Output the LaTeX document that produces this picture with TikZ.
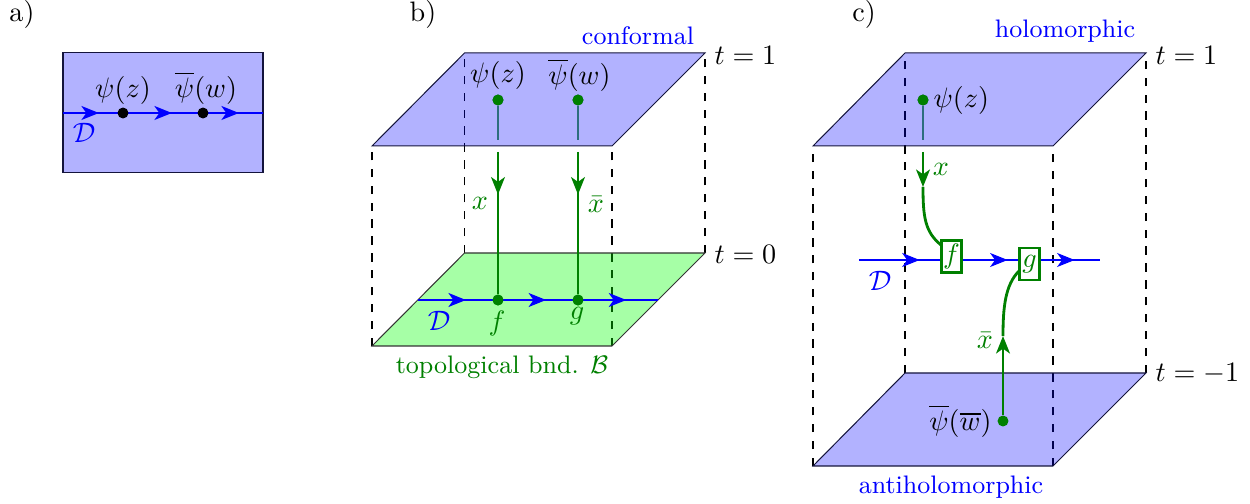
\documentclass[tikz,border=0pt]{standalone}
\usetikzlibrary{arrows.meta,decorations.markings}
\definecolor{dgreen}{RGB}{0,128,0}
\definecolor{stubc}{RGB}{45,110,125}
\definecolor{edgec}{RGB}{20,20,60}
\tikzset{
  >={Stealth[length=6.2pt,width=4.9pt,inset=1.7pt]},
  plane/.style={draw=edgec,line width=0.36pt,fill=blue,fill opacity=0.3},
  gplane/.style={draw=black!80,line width=0.36pt,fill=green,fill opacity=0.35},
  vdash/.style={draw=black,dashed,line width=0.4pt},
  bline/.style={draw=blue,line width=1pt},
  gline/.style={draw=dgreen,line width=1pt},
  stub/.style={draw=stubc,line width=1pt},
  dotg/.style={circle,fill=dgreen,inner sep=0pt,minimum size=3.9pt},
  dotk/.style={circle,fill=black,inner sep=0pt,minimum size=3.9pt},
  gl/.style={text=dgreen,inner sep=0pt},
  bl/.style={text=blue,inner sep=0pt},
  kl/.style={text=black,inner sep=0pt},
  defbox/.style={draw=dgreen,line width=0.85pt,fill=white,text=dgreen,inner sep=0pt,minimum width=7.2pt,minimum height=11.5pt},
  arrowsat/.style args={#1,#2,#3}{postaction={decorate},decoration={markings,
     mark=at position #1 with {\arrow[blue]{>}},
     mark=at position #2 with {\arrow[blue]{>}},
     mark=at position #3 with {\arrow[blue]{>}}}},
  gtip/.style={postaction={decorate},decoration={markings,mark=at position #1 with {\arrow[dgreen]{>}}}},
}
\begin{document}
\begin{tikzpicture}[x=0.0125cm,y=-0.0125cm]
\useasboundingbox (0,0) rectangle (1250,504);
% ---------- a
\node[kl] (la) at (22,14) {a)};
\path[plane] (63,53) rectangle (263,173);
\coordinate (a1) at (63,113); \coordinate (a2) at (263,113);
\draw[bline,arrowsat={0.18,0.545,0.88}] (a1) -- (a2);
\node[dotk] (pa) at (123,113) {};
\node[dotk] (qa) at (203,113) {};
\node[kl] at (123,90) {$\psi(z)$};
\node[kl] at (206,88) {$\overline{\psi}(w)$};
\node[bl] at (84,133) {$\mathcal{D}$};
% ---------- b
\node[kl] (lb) at (423,14) {b)};
\coordinate (bA) at (372,346); \coordinate (bB) at (612,346);
\coordinate (bC) at (705,253); \coordinate (bD) at (464.5,253);
\coordinate (bA1) at (372,146); \coordinate (bB1) at (612,146);
\coordinate (bC1) at (705,53); \coordinate (bD1) at (464.5,53);
\draw[vdash] (bA) -- (bA1);
\draw[vdash] (bB) -- (bB1);
\draw[vdash] (bD) -- (bD1);
\draw[vdash] (bC) -- (bC1);
\node[dotg] (bp) at (498,100) {};
\node[dotg] (bq) at (578,100) {};
\node[dotg] (bf) at (498,300) {};
\node[dotg] (bg) at (578,300) {};
\coordinate (bp1) at (498,140); \coordinate (bp2) at (498,152);
\coordinate (bq1) at (578,140); \coordinate (bq2) at (578,152);
\path[gplane] (bA) -- (bB) -- (bC) -- (bD) -- cycle;
\path[plane] (bA1) -- (bB1) -- (bC1) -- (bD1) -- cycle;
\draw[stub] (bp) -- (bp1);
\draw[stub] (bq) -- (bq1);
\draw[gline,gtip=0.3] (bp2) -- (bf);
\draw[gline,gtip=0.3] (bq2) -- (bg);
\coordinate (bl1) at (418,300); \coordinate (bl2) at (658,300);
\draw[bline,arrowsat={0.2,0.534,0.868}] (bl1) -- (bl2);
\node[dotg] at (bp) {};
\node[dotg] at (bq) {};
\node[dotg] at (bf) {};
\node[dotg] at (bg) {};
\node[kl] at (498,75) {$\psi(z)$};
\node[kl] at (579.5,75) {$\overline{\psi}(w)$};
\node[bl,font=\small] at (638,36) {conformal};
\node[kl,anchor=west] at (714,55) {$t=1$};
\node[kl,anchor=west] at (714,254) {$t=0$};
\node[gl] at (480,203) {$x$};
\node[gl] at (596,205) {$\bar x$};
\node[bl] at (439,321) {$\mathcal{D}$};
\node[gl] at (497,323) {$f$};
\node[gl] at (577,316) {$g$};
\node[gl,font=\small] at (502,367) {topological bnd. $\mathcal{B}$};
% ---------- c
\node[kl] (lc) at (864,14) {c)};
\coordinate (cA) at (813,466); \coordinate (cB) at (1053,466);
\coordinate (cC) at (1146,373); \coordinate (cD) at (905,373);
\coordinate (cA1) at (813,146); \coordinate (cB1) at (1053,146);
\coordinate (cC1) at (1146,53); \coordinate (cD1) at (905,53);
\draw[vdash] (cA) -- (cA1);
\draw[vdash] (cB) -- (cB1);
\draw[vdash] (cD) -- (cD1);
\draw[vdash] (cC) -- (cC1);
\node[dotg] (cp) at (923,100) {};
\coordinate (cp1) at (923,140); \coordinate (cp2) at (923,152);
\path[plane] (cA1) -- (cB1) -- (cC1) -- (cD1) -- cycle;
\path[plane] (cA) -- (cB) -- (cC) -- (cD) -- cycle;
\draw[stub] (cp) -- (cp1);
\node[dotg] at (cp) {};
\coordinate (cl1) at (859,260); \coordinate (cl2) at (1100,260);
\draw[bline,arrowsat={0.252,0.617,0.895}] (cl1) -- (cl2);
\node[defbox] (cf) at (951.5,256.5) {$f$};
\node[defbox] (cg) at (1029.5,264) {$g$};
\coordinate (cxa) at (923,187);
\coordinate (cf1) at (941,245);
\draw[gline,->] (cp2) -- (cxa);
\draw[gline] (cxa) .. controls (923,217) and (925,232) .. (cf1);
\node[dotg] (cq) at (1003,421) {};
\coordinate (cqa) at (1003,336);
\coordinate (cg1) at (1019,271);
\draw[gline,->] (cq) -- (cqa);
\draw[gline] (cqa) .. controls (1003,308) and (1005,285) .. (cg1);
\node[gl] at (941,169) {$x$};
\node[gl] at (985,341) {$\bar x$};
\node[bl] at (880,281) {$\mathcal{D}$};
\node[kl,anchor=west] at (933,100) {$\psi(z)$};
\node[kl,anchor=east] at (992,421) {$\overline{\psi}(\overline{w})$};
\node[bl,font=\small] at (1065,31) {holomorphic};
\node[bl,font=\small] at (951,487) {antiholomorphic};
\node[kl,anchor=west] at (1155,55) {$t=1$};
\node[kl,anchor=west] at (1155,374) {$t=-1$};
\end{tikzpicture}
\end{document}
